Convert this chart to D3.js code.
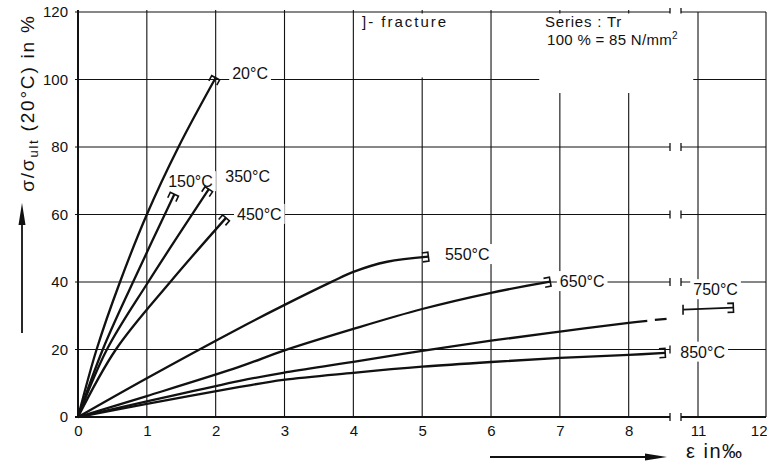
<!DOCTYPE html>
<html>
<head>
<meta charset="utf-8">
<script src="https://cdn.jsdelivr.net/npm/d3@7"></script>
<style>
  body { margin: 0; background: #fff; }
  text { font-family: "Liberation Sans", Arial, sans-serif; fill: #111; }
</style>
</head>
<body>
<script>
// Chart size (same as window)
var svgWidth = 767;
var svgHeight = 470;

// tick values, left part of the broken x axis and right part
var xTicksLeft = [0, 1, 2, 3, 4, 5, 6, 7, 8];
var xTicksRight = [11, 12];
var yTicks = [0, 20, 40, 60, 80, 100, 120];

// curves: [strain in permille, stress in %]
var s20 = [[0, 0], [0.27, 20], [0.61, 40], [1.0, 60], [1.46, 80], [2.0, 100.5]];
var s150 = [[0, 0], [0.36, 20], [0.8, 40], [1.4, 66]];
var s350 = [[0, 0], [0.42, 20], [1.02, 40], [1.9, 67.5]];
var s450 = [[0, 0], [0.55, 20], [1.34, 40], [2.15, 59]];
var s550 = [[0, 0], [1.0, 11.5], [2.35, 26.4], [2.98, 33], [3.69, 40.1], [4.0, 43], [4.49, 46], [5.09, 47.5]];
var s650 = [[0, 0], [1, 6.2], [2.35, 14.9], [2.98, 19.6], [4, 26.1], [5, 32], [6, 36.8], [6.86, 40.1]];
var s750 = [[0, 0], [1, 4.6], [2.35, 10.7], [2.98, 13.1], [4, 16.3], [5, 19.6], [6, 22.6], [7, 25.3], [8, 27.9], [8.27, 28.5]];
var s750dash = [[8.38, 28.75], [8.55, 29.1]];
var s750right = [[10.78, 31.8], [11.52, 32.4]];
var s850 = [[0, 0], [1, 3.9], [2.35, 8.9], [2.98, 11], [4, 13.1], [5, 14.9], [6, 16.3], [7, 17.5], [8, 18.4], [8.53, 19.0]];

var curveLabels = ["20°C", "150°C", "350°C", "450°C", "550°C", "650°C", "750°C", "850°C"];

// scales: left part 0..8.6, right part 10.75..12
var x = d3.scaleLinear().domain([0, 8.6]).range([78, 670]);
var xR = d3.scaleLinear().domain([10.75, 12]).range([681, 766]);
var y = d3.scaleLinear().domain([0, 120]).range([417, 12]);

var svg = d3.select("body").append("svg")
  .attr("width", svgWidth)
  .attr("height", svgHeight);

var gridG = svg.append("g");
var knockG = svg.append("g");
var curveG = svg.append("g");
var labelG = svg.append("g");

// horizontal grid lines, both parts
yTicks.forEach(function (t) {
  var w = (t === 0) ? 2 : 1.2;
  gridG.append("line").attr("x1", x(0) - 3).attr("x2", x(8.6))
    .attr("y1", y(t)).attr("y2", y(t)).attr("stroke", "#111").attr("stroke-width", w);
  gridG.append("line").attr("x1", xR(10.75)).attr("x2", xR(12))
    .attr("y1", y(t)).attr("y2", y(t)).attr("stroke", "#111").attr("stroke-width", w);
  // break ticks
  [x(8.6), xR(10.75)].forEach(function (bx) {
    gridG.append("line").attr("x1", bx).attr("x2", bx)
      .attr("y1", y(t) - 4).attr("y2", y(t) + 4)
      .attr("stroke", "#111").attr("stroke-width", 1.3);
  });
});

// vertical grid lines
xTicksLeft.forEach(function (t) {
  gridG.append("line").attr("x1", x(t)).attr("x2", x(t))
    .attr("y1", y(120) - 2).attr("y2", y(0))
    .attr("stroke", "#111").attr("stroke-width", t === 0 ? 2 : 1.1);
});
xTicksRight.forEach(function (t) {
  gridG.append("line").attr("x1", xR(t)).attr("x2", xR(t))
    .attr("y1", y(120)).attr("y2", y(0))
    .attr("stroke", "#111").attr("stroke-width", 1.1);
});

// axes: only the labels
var leftAxis = d3.axisLeft(y).tickValues(yTicks).tickSize(0).tickPadding(10);
var bottomAxis = d3.axisBottom(x).tickValues(xTicksLeft).tickSize(0).tickPadding(8);
var bottomAxisR = d3.axisBottom(xR).tickValues(xTicksRight).tickSize(0).tickPadding(8)
  .tickFormat(d3.format("d"));

var axisR;
[svg.append("g").attr("transform", "translate(78,0)").call(leftAxis),
 svg.append("g").attr("transform", "translate(0,417)").call(bottomAxis),
 axisR = svg.append("g").attr("transform", "translate(0,417)").call(bottomAxisR)].forEach(function (g) {
  g.select(".domain").remove();
  g.selectAll("text").attr("font-size", "15px").attr("fill", "#111")
    .attr("font-family", "'Liberation Sans', Arial, sans-serif");
});
// last label sits at the page edge
axisR.selectAll(".tick").filter(d => d === 12).select("text").attr("text-anchor", "end").attr("x", 1);

// white boxes behind the legend texts
knockG.append("rect").attr("x", x(4.08)).attr("y", y(120) + 1.5)
  .attr("width", x(5.5) - x(4.08)).attr("height", y(100.6) - y(120) - 1.5).attr("fill", "#fff");
knockG.append("rect").attr("x", x(6.7)).attr("y", y(120) + 1.5)
  .attr("width", xR(10.93) - x(6.7)).attr("height", y(96) - y(120) - 1.5).attr("fill", "#fff");

// curves
var line = d3.line().x(d => x(d[0])).y(d => y(d[1])).curve(d3.curveCatmullRom.alpha(0.5));
var lineR = d3.line().x(d => xR(d[0])).y(d => y(d[1]));

var leftSeries = [s20, s150, s350, s450, s550, s650, s750, s850];
leftSeries.forEach(function (s) {
  curveG.append("path").attr("d", line(s))
    .attr("fill", "none").attr("stroke", "#111").attr("stroke-width", 2.3);
});
curveG.append("path").attr("d", line(s750dash))
  .attr("fill", "none").attr("stroke", "#111").attr("stroke-width", 2.3);
curveG.append("path").attr("d", lineR(s750right))
  .attr("fill", "none").attr("stroke", "#111").attr("stroke-width", 1.8);
// start tick of the continued 750 curve
curveG.append("line").attr("x1", xR(s750right[0][0])).attr("x2", xR(s750right[0][0]))
  .attr("y1", y(s750right[0][1]) - 5).attr("y2", y(s750right[0][1]) + 5)
  .attr("stroke", "#111").attr("stroke-width", 1.6);

// fracture brackets at the curve ends
function bracket(px, py, qx, qy) {
  var ang = Math.atan2(qy - py, qx - px) * 180 / Math.PI;
  curveG.append("path").attr("d", "M-6,-4.5H0V4.5H-6")
    .attr("transform", `translate(${qx},${qy}) rotate(${ang})`)
    .attr("fill", "none").attr("stroke", "#111").attr("stroke-width", 1.6);
}
[s20, s150, s350, s450, s550, s650, s850].forEach(function (s) {
  var a = s[s.length - 2], b = s[s.length - 1];
  bracket(x(a[0]), y(a[1]), x(b[0]), y(b[1]));
});
bracket(xR(s750right[0][0]), y(s750right[0][1]), xR(s750right[1][0]), y(s750right[1][1]));

// curve labels (left edge, baseline) in data units
var labelSpots = [[2.24, 100.1, x], [1.31, 68.1, x], [2.14, 69.6, x], [2.31, 58.4, x],
  [5.33, 46.5, x], [7.0, 38.5, x], [10.93, 36.1, xR], [8.75, 17.6, x]];

curveLabels.forEach(function (lab, i) {
  var sp = labelSpots[i];
  var t = labelG.append("text").attr("x", sp[2](sp[0])).attr("y", y(sp[1]))
    .attr("font-size", "16px").text(lab);
  var bb = t.node().getBBox();
  knockG.append("rect").attr("x", bb.x - 3).attr("y", bb.y - 2)
    .attr("width", bb.width + 6).attr("height", bb.height + 3).attr("fill", "#fff");
});

// legend texts
labelG.append("text").attr("x", 362).attr("y", 27).attr("font-size", "15px")
  .attr("letter-spacing", "2px").text("]- fracture");
labelG.append("text").attr("x", 545).attr("y", 27).attr("font-size", "15px")
  .attr("letter-spacing", "0.8px").text("Series : Tr");
var t100 = labelG.append("text").attr("x", 547).attr("y", 45).attr("font-size", "15px")
  .attr("letter-spacing", "0.3px");
t100.append("tspan").text("100 % = 85 N/mm");
t100.append("tspan").attr("font-size", "10px").attr("dy", -6).text("2");

// y axis title with arrow
var yt = svg.append("text").attr("transform", "translate(34,103) rotate(-90)")
  .attr("text-anchor", "middle").attr("font-size", "19px").attr("letter-spacing", "1.8px");
yt.append("tspan").text("σ/σ");
yt.append("tspan").attr("font-size", "13px").attr("dy", 4).text("ult");
yt.append("tspan").attr("dy", -4).text(" (20°C) in %");

svg.append("line").attr("x1", 22).attr("x2", 22).attr("y1", 333).attr("y2", 220)
  .attr("stroke", "#111").attr("stroke-width", 1.8);
svg.append("path").attr("d", "M22,203L18.5,225L25.5,225Z").attr("fill", "#111");

// x axis title with arrow
svg.append("line").attr("x1", 490).attr("x2", 648).attr("y1", 457).attr("y2", 457)
  .attr("stroke", "#111").attr("stroke-width", 1.8);
svg.append("path").attr("d", "M667,457L645,453.5L645,460.5Z").attr("fill", "#111");
svg.append("text").attr("x", 686).attr("y", 458).attr("font-size", "20px")
  .attr("letter-spacing", "1.5px").text("ε in‰");
</script>
</body>
</html>
